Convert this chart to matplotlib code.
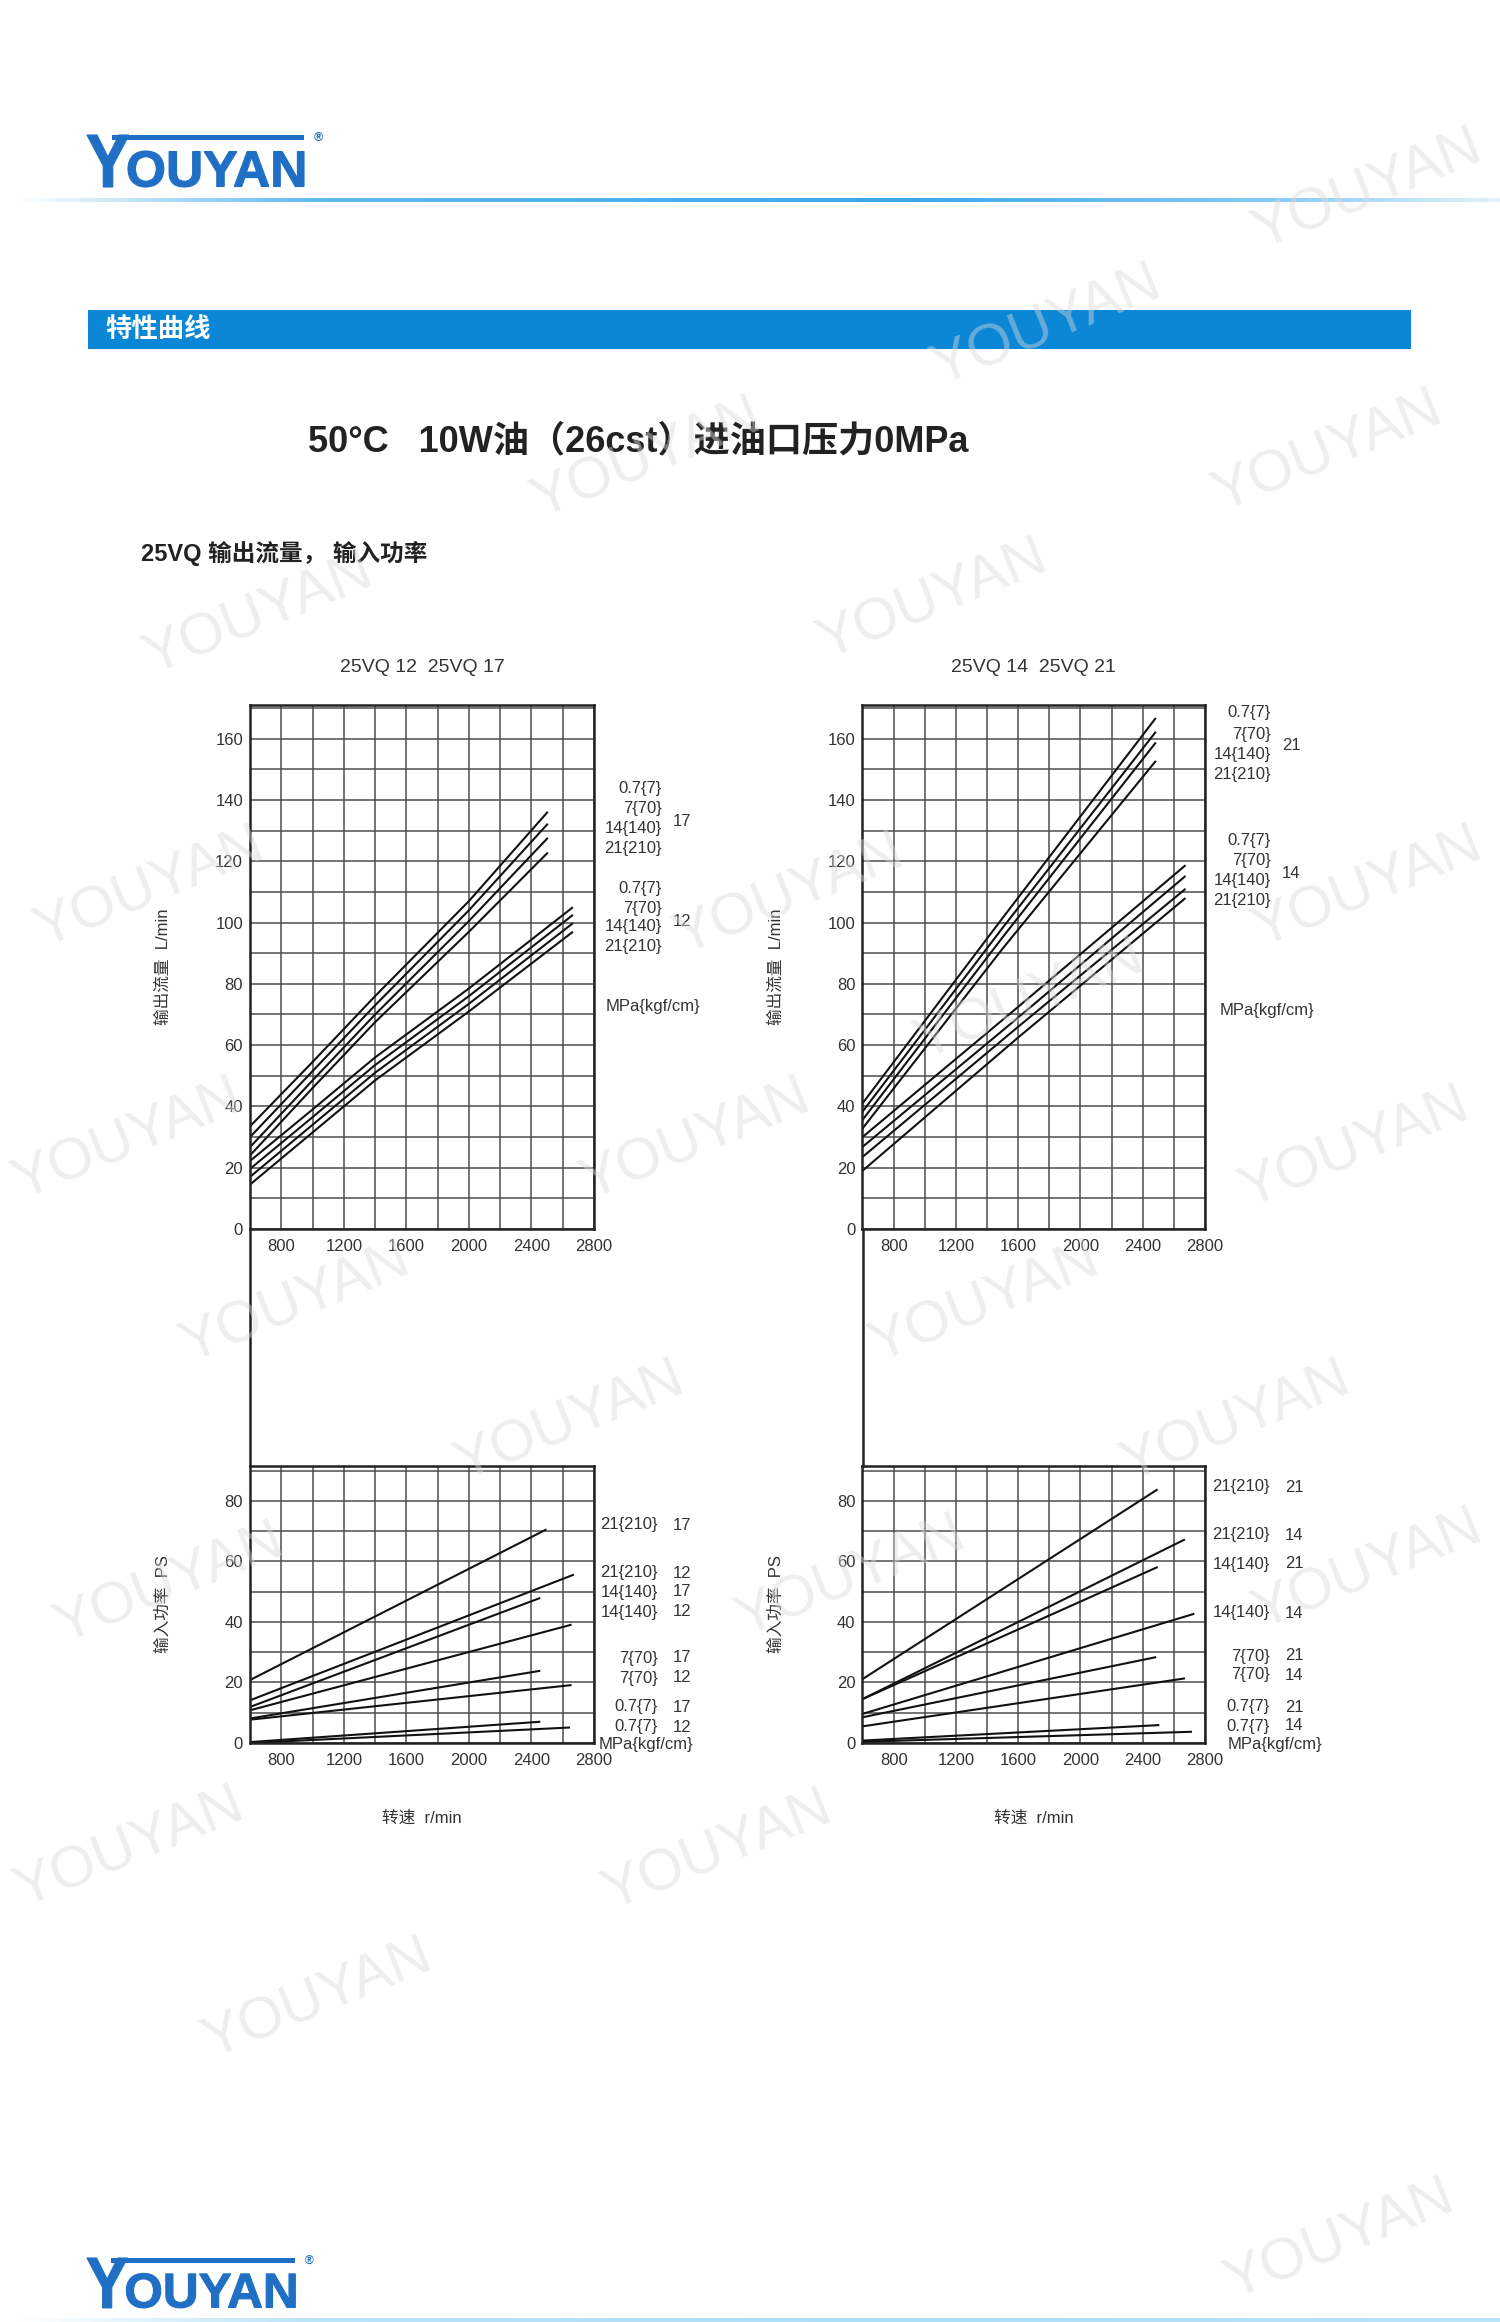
import matplotlib
matplotlib.use('Agg')
import matplotlib.pyplot as plt
import numpy as np
from matplotlib.textpath import TextPath
from matplotlib.patches import PathPatch, Rectangle
from matplotlib.font_manager import FontProperties
from matplotlib.transforms import Affine2D
from matplotlib.lines import Line2D

plt.rcParams['font.family'] = ['Liberation Sans', 'Noto Sans CJK SC', 'DejaVu Sans']

W, H = 1500, 2322

# ---------------- data ----------------
pressure_labels = ['0.7{7}', '7{70}', '14{140}', '21{210}']

# output flow L/min vs speed r/min  (rows: 0.7, 7, 14, 21 MPa)
flow_rpm_17 = [600, 1000, 1400, 2000, 2500]
flow_17 = [[33.5, 54.5, 76.0, 107.0, 135.9],
           [30.0, 51.5, 73.0, 104.0, 132.0],
           [26.7, 48.5, 70.0, 100.5, 127.4],
           [24.0, 46.0, 67.5, 97.0, 122.6]]

flow_rpm_12 = [600, 1000, 1400, 2000, 2660]
flow_12 = [[22.2, 39.0, 56.0, 78.5, 104.8],
           [19.6, 36.5, 53.5, 76.0, 102.3],
           [17.0, 34.0, 51.0, 73.5, 99.6],
           [14.5, 31.5, 48.5, 71.0, 96.8]]

flow_rpm_21 = [600, 1500, 2480]
flow_21 = [[41.0, 101.5, 166.5],
           [38.3, 98.3, 162.0],
           [35.6, 95.2, 158.5],
           [32.8, 91.5, 152.5]]

flow_rpm_14 = [600, 1600, 2670]
flow_14 = [[30.0, 72.5, 118.5],
           [26.8, 69.0, 115.0],
           [23.5, 66.0, 110.8],
           [19.0, 62.5, 107.8]]

# input power PS vs speed r/min (start at 600 r/min, end speed per line)
power_end_17 = [2450, 2450, 2450, 2490]
power_17 = [[0.3, 7.0], [8.1, 23.8], [11.9, 47.8], [20.8, 70.4]]
power_end_12 = [2640, 2650, 2650, 2665]
power_12 = [[0.0, 5.1], [7.7, 19.1], [10.8, 39.0], [14.1, 55.5]]
power_end_21 = [2500, 2480, 2490, 2490]
power_21 = [[0.8, 5.9], [8.5, 28.3], [14.5, 58.0], [21.1, 83.6]]
power_end_14 = [2710, 2665, 2725, 2665]
power_14 = [[0.4, 3.7], [5.5, 21.3], [9.6, 42.6], [14.5, 67.1]]

# ---------------- figure ----------------
fig = plt.figure(figsize=(W / 100, H / 100), dpi=100)
fig.patch.set_facecolor('white')

GRID = '#4d4d4d'
TXT = '#333333'


def px_axes(x0, x1, top, bottom):
    return fig.add_axes([x0 / W, 1 - bottom / H, (x1 - x0) / W, (bottom - top) / H])


def style(ax, ymax, ystep):
    ax.set_xlim(600, 2800)
    ax.set_ylim(0, ymax)
    ax.set_xticks(np.arange(800, 2801, 400))
    ax.set_xticks(np.arange(600, 2801, 200), minor=True)
    ax.set_yticks(np.arange(0, ymax - 5, ystep * 2))
    ax.set_yticks(np.arange(0, ymax, ystep), minor=True)
    ax.grid(which='both', color=GRID, lw=1.1)
    ax.tick_params(which='both', length=0, labelsize=12, labelcolor=TXT)
    ax.tick_params(axis='y', pad=5)
    ax.tick_params(axis='x', pad=7)
    for s in ax.spines.values():
        s.set_linewidth(1.8)
        s.set_color('#222222')
    ax.set_axisbelow(True)


LX1, LX2 = 250, 594
RX1, RX2 = 862.5, 1205
FT, FB = 705, 1229
PT, PB = 1466, 1743

ax_f1 = px_axes(LX1, LX2, FT, FB)
ax_f2 = px_axes(RX1, RX2, FT, FB)
ax_p1 = px_axes(LX1, LX2, PT, PB)
ax_p2 = px_axes(RX1, RX2, PT, PB)

for ax in (ax_f1, ax_f2):
    style(ax, 171, 10)
for ax in (ax_p1, ax_p2):
    style(ax, 91.5, 10)

for ys in flow_17:
    ax_f1.plot(flow_rpm_17, ys, color='#111111', lw=1.5)
for ys in flow_12:
    ax_f1.plot(flow_rpm_12, ys, color='#111111', lw=1.5)
for ys in flow_21:
    ax_f2.plot(flow_rpm_21, ys, color='#111111', lw=1.5)
for ys in flow_14:
    ax_f2.plot(flow_rpm_14, ys, color='#111111', lw=1.5)

for ends, vals in ((power_end_17, power_17), (power_end_12, power_12)):
    for e, ys in zip(ends, vals):
        ax_p1.plot([600, e], ys, color='#111111', lw=1.5)
for ends, vals in ((power_end_21, power_21), (power_end_14, power_14)):
    for e, ys in zip(ends, vals):
        ax_p2.plot([600, e], ys, color='#111111', lw=1.5)

# ---------------- overlay in pixel coordinates ----------------
ov = fig.add_axes([0, 0, 1, 1], zorder=5)
ov.set_xlim(0, W)
ov.set_ylim(H, 0)
ov.set_axis_off()
ov.patch.set_alpha(0)

# connecting left spines between flow and power charts
for x in (LX1, RX1):
    ov.add_line(Line2D([x, x], [FB, PT], color='#222222', lw=1.8))

BLUE_LOGO = '#1f6fc5'


def draw_path(text, x0, x1, top, bottom, color):
    tp = TextPath((0, 0), text, size=100,
                  prop=FontProperties(family='Liberation Sans', weight='bold'))
    bb = tp.get_extents()
    tr = (Affine2D().translate(-bb.x0, -bb.y0)
          .scale((x1 - x0) / bb.width, -(bottom - top) / bb.height)
          .translate(x0, bottom))
    ov.add_patch(PathPatch(tr.transform_path(tp), color=color, lw=0.8))


def logo(x0, top, scale):
    h = 52 * scale
    draw_path('Y', x0, x0 + 42 * scale, top, top + h, BLUE_LOGO)
    draw_path('OUYAN', x0 + 41 * scale, x0 + 217 * scale, top + 16 * scale, top + h, BLUE_LOGO)
    ov.add_patch(Rectangle((x0 + 25 * scale, top), 192 * scale, 5 * scale,
                           color=BLUE_LOGO, lw=0))
    ov.text(x0 + 231 * scale, top + 3 * scale, '®', fontsize=9 * scale,
            color=BLUE_LOGO, ha='center', va='center', fontweight='bold')


logo(87, 135, 1.0)
logo(87, 2258, 0.96)


def gradient_line(y, x0, x1, thick, stops, alphas, rgb):
    xs = np.linspace(0, 1, 400)
    a = np.interp(xs, stops, alphas)
    img = np.zeros((1, 400, 4))
    img[0, :, :3] = rgb
    img[0, :, 3] = a
    ov.imshow(img, extent=[x0, x1, y + thick / 2, y - thick / 2], aspect='auto',
              interpolation='bilinear', zorder=1)


gradient_line(200, 15, 1500, 4, [0, 0.2, 0.6, 0.85, 1.0], [0.0, 0.8, 1.0, 0.6, 0.15],
              (0.22, 0.66, 0.93))
gradient_line(2320, 15, 1500, 4, [0, 0.2, 0.6, 1.0], [0.0, 0.5, 0.6, 0.5],
              (0.45, 0.78, 0.95))
ov.set_xlim(0, W)
ov.set_ylim(H, 0)

# section bar
ov.add_patch(Rectangle((88, 310), 1323, 39, color='#0b87d6', lw=0))
ov.text(105, 330, '特性曲线', color='white', fontsize=19, fontweight='bold',
        ha='left', va='center')

ov.text(308, 442, '50°C   10W油（26cst）进油口压力0MPa', fontsize=26,
        fontweight='bold', color='#222222', ha='left', va='center')
ov.text(141, 553, '25VQ 输出流量， 输入功率', fontsize=17, fontweight='bold',
        color='#222222', ha='left', va='center')

ov.text((LX1 + LX2) / 2, 668, '25VQ 12  25VQ 17', fontsize=14, color=TXT,
        ha='center', va='center')
ov.text((RX1 + RX2) / 2, 668, '25VQ 14  25VQ 21', fontsize=14, color=TXT,
        ha='center', va='center')

for x in (163, 776):
    ov.text(x, (FT + FB) / 2, '输出流量  L/min', fontsize=12, color=TXT, rotation=90,
            ha='center', va='center')
    ov.text(x, (PT + PB) / 2, '输入功率  PS', fontsize=12, color=TXT, rotation=90,
            ha='center', va='center')
for x in ((LX1 + LX2) / 2, (RX1 + RX2) / 2):
    ov.text(x, 1818, '转速  r/min', fontsize=12, color=TXT, ha='center', va='center')


# flow chart legends
def legend_block(xr, ys, labels, num, ynum):
    for y, lab in zip(ys, labels):
        ov.text(xr, y, lab, fontsize=12, color=TXT, ha='right', va='center')
    ov.text(xr + 11, ynum, num, fontsize=12, color=TXT, ha='left', va='center')


legend_block(662, [789, 809, 829, 849], pressure_labels, '17', 821)
legend_block(662, [888, 908, 927, 947], pressure_labels, '12', 921)
ov.text(606, 1006, 'MPa{kgf/cm}', fontsize=12, color=TXT, ha='left', va='center')

legend_block(1271, [713, 734, 754, 774], pressure_labels, '21', 746)
legend_block(1271, [841, 861, 880, 901], pressure_labels, '14', 873)
ov.text(1220, 1010, 'MPa{kgf/cm}', fontsize=12, color=TXT, ha='left', va='center')

# power chart legends
power_left = [('21{210}', '17', 1525), ('21{210}', '12', 1573), ('14{140}', '17', 1592),
              ('14{140}', '12', 1612), ('7{70}', '17', 1658), ('7{70}', '12', 1678),
              ('0.7{7}', '17', 1707), ('0.7{7}', '12', 1727)]
for lab, num, y in power_left:
    ov.text(658, y, lab, fontsize=12, color=TXT, ha='right', va='center')
    ov.text(673, y, num, fontsize=12, color=TXT, ha='left', va='center')
ov.text(599, 1745, 'MPa{kgf/cm}', fontsize=12, color=TXT, ha='left', va='center')

power_right = [('21{210}', '21', 1487), ('21{210}', '14', 1535), ('14{140}', '21', 1564),
               ('14{140}', '14', 1613), ('7{70}', '21', 1656), ('7{70}', '14', 1675),
               ('0.7{7}', '21', 1707), ('0.7{7}', '14', 1726)]
for lab, num, y in power_right:
    ov.text(1270, y, lab, fontsize=12, color=TXT, ha='right', va='center')
    ov.text(1285, y, num, fontsize=12, color=TXT, ha='left', va='center')
ov.text(1228, 1745, 'MPa{kgf/cm}', fontsize=12, color=TXT, ha='left', va='center')

# watermarks
marks = [(1368, 190), (1047, 326), (647, 459), (1328, 452), (259, 615), (933, 600),
         (150, 888), (790, 895), (1368, 888), (1030, 1000), (128, 1140), (696, 1140),
         (1355, 1148), (296, 1303), (985, 1303), (570, 1422), (1236, 1422), (170, 1584),
         (851, 1577), (1368, 1570), (130, 1848), (718, 1851), (318, 1999), (1340, 2240)]
for x, y in marks:
    ov.text(x, y, 'YOUYAN', fontsize=42, color='#d9d9d9', alpha=0.45, rotation=22,
            ha='center', va='center', zorder=6)

fig.savefig('out.png', dpi=100, facecolor='white')
